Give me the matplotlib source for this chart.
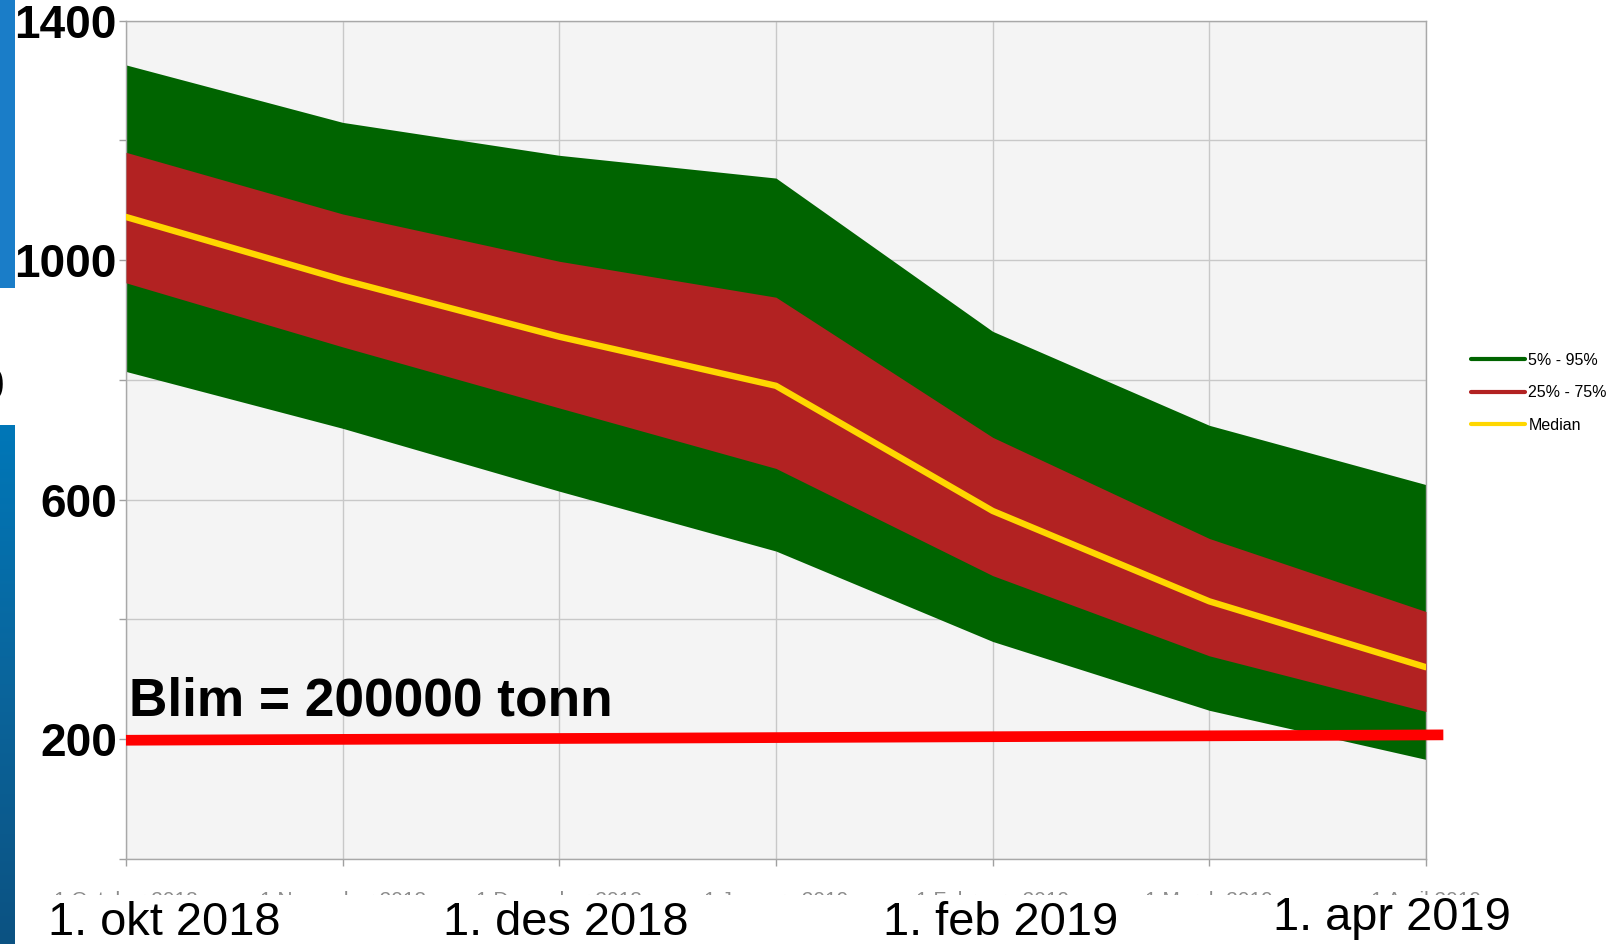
import numpy as np
import matplotlib
matplotlib.use("Agg")
import matplotlib.pyplot as plt
from matplotlib.patches import Rectangle
from matplotlib.colors import LinearSegmentedColormap
from matplotlib.transforms import Bbox
import matplotlib.transforms as mtransforms

# ---------------- data ----------------
months_small = ["1 October 2018", "1 November 2018", "1 December 2018", "1 January 2019",
                "1 February 2019", "1 March 2019", "1 April 2019"]
big_labels = ["1. okt 2018", "1. des 2018", "1. feb 2019", "1. apr 2019"]
p95 = [1326, 1230, 1175, 1137, 881, 724, 625]
p75 = [1180, 1077, 998, 938, 704, 535, 413]
median = [1072, 967, 872, 790, 581, 430, 320]
p25 = [962, 855, 753, 652, 473, 339, 246]
p5 = [814, 719, 614, 514, 363, 248, 166]
blim_x = [0, 6.08]
blim_y = [198, 207]
ytick_vals = [0, 200, 400, 600, 800, 1000, 1200, 1400]
ytick_labels = ["", "200", "", "600", "", "1000", "", "1400"]

W, H = 1614, 944
fig = plt.figure(figsize=(W / 100, H / 100), dpi=100)
fig.patch.set_facecolor("white")

L, R, T, B = 126, 1426, 20.6, 858.8
ax = fig.add_axes([L / W, 1 - B / H, (R - L) / W, (B - T) / H])
ax.set_facecolor("#f4f4f4")
x = np.arange(len(months_small))

ax.fill_between(x, p5, p95, color="#006400", lw=0, zorder=2)
ax.fill_between(x, p25, p75, color="#b22222", lw=0, zorder=3)
ax.plot(x, median, color="#ffd700", lw=4.6, solid_capstyle="round", zorder=4)
ax.plot(blim_x, blim_y, color="#ff0000", lw=7.7, solid_capstyle="butt", zorder=5, clip_on=False)

ax.set_xlim(0, 6)
ax.set_ylim(0, 1400)
ax.set_xticks(x)
ax.set_xticklabels([])
ax.set_yticks(ytick_vals)
ax.set_yticklabels(ytick_labels, fontsize=33, fontweight="bold", family="Liberation Sans")
off = mtransforms.ScaledTranslation(0, -5 / 100, fig.dpi_scale_trans)
for lab in ax.get_yticklabels():
    lab.set_transform(lab.get_transform() + off)
ax.tick_params(axis="y", length=5, width=1, color="#a0a0a0", pad=1.5)
ax.tick_params(axis="x", length=5, width=1, color="#a0a0a0")
ax.grid(True, color="#c8c8c8", lw=1, zorder=0)
ax.set_axisbelow(True)
for s in ax.spines.values():
    s.set_color("#a8a8a8")
    s.set_linewidth(1)

# legend
h1, = ax.plot([], [], color="#006400", lw=3, solid_capstyle="round", label="5% - 95%")
h2, = ax.plot([], [], color="#b22222", lw=3, solid_capstyle="round", label="25% - 75%")
h3, = ax.plot([], [], color="#ffd700", lw=3, solid_capstyle="round", label="Median")
fig.legend(handles=[h1, h2, h3], loc="upper left", bbox_to_anchor=(1471 / W, 1 - 353 / H),
           frameon=False, handlelength=3.4, handletextpad=0.2,
           labelspacing=1.08, borderpad=0, borderaxespad=0,
           prop={"family": "Liberation Sans", "size": 11.5})

# Blim text
fig.text(129 / W, 1 - 715 / H, "Blim = 200000 tonn", fontsize=38.3, fontweight="bold",
         family="Liberation Sans", va="baseline", ha="left")

# faint original tick labels (only a thin sliver visible)
clip = Bbox.from_extents(0, H - 895, W, H - 891)
for i, lab in enumerate(months_small):
    xp = (L + i * (R - L) / 6) / W
    t = fig.text(xp, 1 - 891 / H, lab, fontsize=15, color="#8c8c8c", ha="center", va="top",
                 family="Liberation Sans", zorder=1)
    t.set_clip_box(clip)
    t.set_clip_on(True)

# big labels
big_y = [935, 935, 935, 930]
big_xc = [164, 566, 1001, 1392]
for lab, xc, yb in zip(big_labels, big_xc, big_y):
    fig.text(xc / W, 1 - yb / H, lab, fontsize=33.8, family="Liberation Sans",
             ha="center", va="baseline", zorder=3)

# partial glyph at left edge
fig.text(4 / W, 1 - 388 / H, "0", fontsize=33, fontweight="bold", family="Liberation Sans",
         ha="right", va="center", zorder=3)

# blue slide bars on left edge
top_bar = fig.add_axes([0, 1 - 288 / H, 15 / W, 288 / H])
top_bar.set_axis_off()
top_bar.add_patch(Rectangle((0, 0), 1, 1, transform=top_bar.transAxes, facecolor="#1a7dc8", lw=0))
bot_bar = fig.add_axes([0, 0, 15 / W, (H - 425) / H])
bot_bar.set_axis_off()
cmap = LinearSegmentedColormap.from_list("bar", ["#0c5282", "#0a659c", "#0077b8"])
grad = np.linspace(0, 1, 256).reshape(-1, 1)
bot_bar.imshow(grad, aspect="auto", cmap=cmap, origin="lower", extent=[0, 1, 0, 1])
bot_bar.set_xlim(0, 1)
bot_bar.set_ylim(0, 1)

fig.savefig("out.png", dpi=100)
